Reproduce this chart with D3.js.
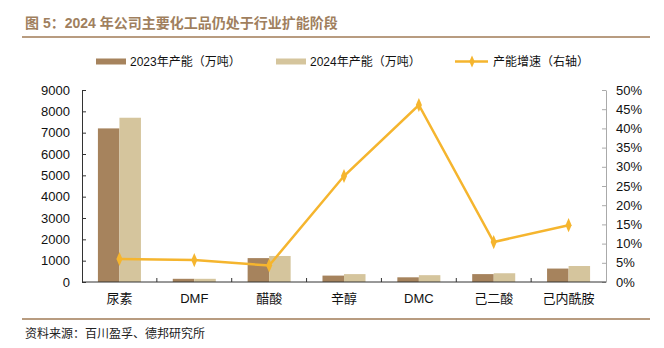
<!DOCTYPE html>
<html><head><meta charset="utf-8">
<script src="https://cdn.jsdelivr.net/npm/d3@7"></script>
<style>
body{margin:0;background:#fff;}
svg{display:block;}
text{font-family:Arial,"Liberation Sans","Noto Sans CJK SC",sans-serif;}
</style></head>
<body><svg id="c" width="664" height="348"></svg>
<script>
const categories = ["尿素","DMF","醋酸","辛醇","DMC","己二酸","己内酰胺"];
const cap2023 = [7200,150,1120,300,220,370,630];
const cap2024 = [7700,150,1220,370,320,410,750];
const growth = [6.0,5.7,4.3,27.6,46.1,10.4,14.8];
const leftTicks = [0,1000,2000,3000,4000,5000,6000,7000,8000,9000];
const rightTicks = [0,5,10,15,20,25,30,35,40,45,50];
const seriesNames = ["2023年产能（万吨）","2024年产能（万吨）","产能增速（右轴）"];

const svg = d3.select("#c");
const L=82,R=606,T=90,B=282;
const brown="#a6835d", beige="#d5c59d", gold="#f5b52e", titleC="#a07f5e", ruleC="#b89c80";

// title
svg.append("text").attr("x",25).attr("y",28).attr("font-size",14).attr("font-weight","bold")
  .attr("fill",titleC).attr("font-family","'Noto Sans CJK SC',sans-serif").text("图 5：2024 年公司主要化工品仍处于行业扩能阶段");
svg.append("line").attr("x1",22).attr("x2",650).attr("y1",37).attr("y2",37).attr("stroke",ruleC).attr("stroke-width",2);
svg.append("line").attr("x1",22).attr("x2",650).attr("y1",319).attr("y2",319).attr("stroke",ruleC).attr("stroke-width",2);
svg.append("text").attr("x",25).attr("y",338).attr("font-size",12).attr("fill","#222")
  .attr("font-family","'Noto Sans CJK SC',sans-serif").text("资料来源：百川盈孚、德邦研究所");

const x0 = d3.scaleBand().domain(categories).range([L,R]).padding(0);
const x1 = d3.scaleBand().domain(["a","b"]).range([0,x0.bandwidth()]).paddingInner(0).paddingOuter(0.74);
const y = d3.scaleLinear().domain([0,9000]).range([B,T]);
const y2 = d3.scaleLinear().domain([0,50]).range([B,T]);

// bars
const g = svg.append("g");
categories.forEach((c,i)=>{
  g.append("rect").attr("x",x0(c)+x1("a")).attr("width",x1.bandwidth()).attr("y",y(cap2023[i])).attr("height",B-y(cap2023[i])).attr("fill",brown);
  g.append("rect").attr("x",x0(c)+x1("b")).attr("width",x1.bandwidth()).attr("y",y(cap2024[i])).attr("height",B-y(cap2024[i])).attr("fill",beige);
});

// left axis
const ax = svg.append("g").attr("transform",`translate(${L},0)`)
  .call(d3.axisLeft(y).tickValues(leftTicks).tickSize(-4).tickPadding(12).tickSizeOuter(0).tickFormat(d3.format("d")));
ax.select(".domain").attr("stroke","#333");
ax.selectAll(".tick line").attr("stroke","#333");
ax.selectAll("text").attr("font-size",13).attr("fill","#111").attr("font-family","Arial,'Liberation Sans',sans-serif");

// right axis
const ar = svg.append("g").attr("transform",`translate(${R},0)`)
  .call(d3.axisRight(y2).tickValues(rightTicks).tickSize(-4).tickPadding(10).tickSizeOuter(0).tickFormat(d=>d+"%"));
ar.select(".domain").attr("stroke","#aaa");
ar.selectAll(".tick line").attr("stroke","#aaa");
ar.selectAll("text").attr("font-size",13).attr("fill","#111").attr("font-family","Arial,'Liberation Sans',sans-serif");

// bottom axis
const boundaries = categories.slice(1).map(c=>x0(c));
svg.append("line").attr("x1",L).attr("x2",R).attr("y1",B).attr("y2",B).attr("stroke","#333");
boundaries.forEach(bx=>svg.append("line").attr("x1",bx).attr("x2",bx).attr("y1",B).attr("y2",B-4).attr("stroke","#333"));
categories.forEach(c=>{
  svg.append("text").attr("x",x0(c)+x0.bandwidth()/2).attr("y",303).attr("text-anchor","middle")
    .attr("font-size",13).attr("fill","#111")
    .attr("font-family",/^[A-Z]+$/.test(c)?"Arial,'Liberation Sans',sans-serif":"'Noto Sans CJK SC',sans-serif").text(c);
});

// line
const cx = c=>x0(c)+x0.bandwidth()/2;
const line = d3.line().x((d,i)=>cx(categories[i])).y(d=>y2(d));
svg.append("path").datum(growth).attr("d",line).attr("fill","none").attr("stroke",gold).attr("stroke-width",2.5);
const sym = d3.symbol().type(d3.symbolDiamond).size(40);
growth.forEach((v,i)=>{
  svg.append("path").attr("d",sym()).attr("transform",`translate(${cx(categories[i])},${y2(v)}) scale(0.9,1.2)`).attr("fill",gold);
});

// legend
const lg = svg.append("g").attr("font-size",12).attr("font-family","Arial,'Noto Sans CJK SC',sans-serif");
lg.append("rect").attr("x",96).attr("y",58.5).attr("width",30).attr("height",6).attr("fill",brown);
lg.append("text").attr("x",130).attr("y",66).attr("fill","#111").text(seriesNames[0]);
lg.append("rect").attr("x",276).attr("y",58.5).attr("width",30).attr("height",6).attr("fill",beige);
lg.append("text").attr("x",310).attr("y",66).attr("fill","#111").text(seriesNames[1]);
lg.append("line").attr("x1",455).attr("x2",488).attr("y1",61.5).attr("y2",61.5).attr("stroke",gold).attr("stroke-width",2.5);
lg.append("path").attr("d",sym()).attr("transform","translate(472,61.5) scale(0.8,1.0)").attr("fill",gold);
lg.append("text").attr("x",493).attr("y",66).attr("fill","#111").text(seriesNames[2]);
</script></body></html>
